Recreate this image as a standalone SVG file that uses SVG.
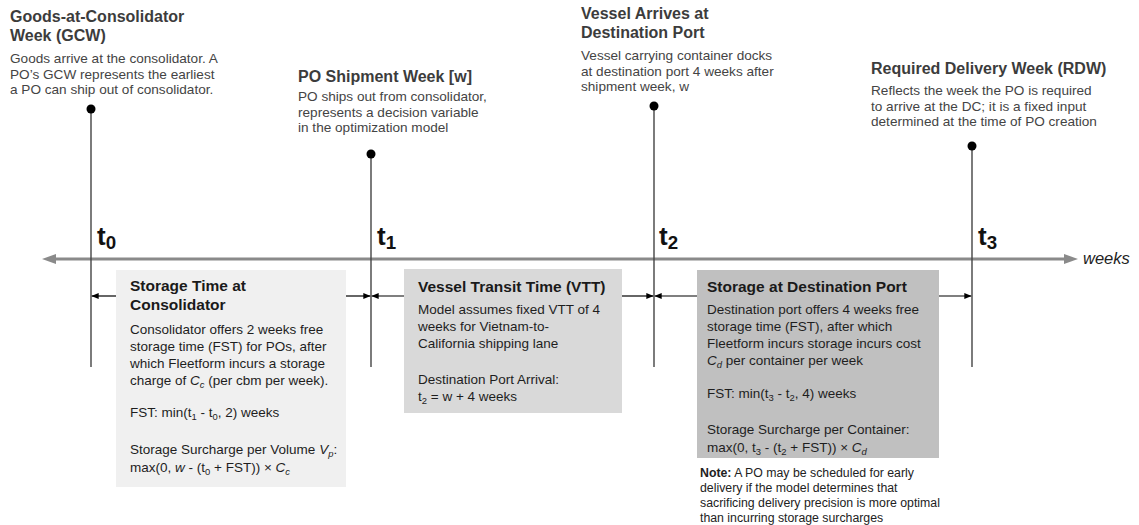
<svg xmlns="http://www.w3.org/2000/svg" width="1139" height="525" viewBox="0 0 1139 525">
  <style>
    text { font-family: "Liberation Sans", Arial, Helvetica, sans-serif; }
    .ttl { font-size: 16px; font-weight: bold; fill: #3c3c3c; }
    .desc { font-size: 13.6px; fill: #444444; }
    .btl { font-size: 15.5px; font-weight: bold; fill: #1a1a1a; }
    .body { font-size: 13.5px; fill: #1e1e1e; }
    .tick { font-size: 26px; font-weight: bold; fill: #111111; }
    .tick .sub { font-size: 0.72em; }
    .note { font-size: 12.3px; fill: #222222; }
    .vline { stroke: #444444; stroke-width: 1.4; fill: none; }
    .dot { fill: #000000; }
    .dim { stroke: #000000; stroke-width: 1.2; fill: none; marker-end: url(#dimHead); }
    .axis { stroke: #8a8a8a; stroke-width: 3; fill: none; }
    .sub { font-size: 0.7em; }
  </style>
  <defs>
    <marker id="dimHead" markerWidth="7" markerHeight="6" refX="7" refY="3" orient="auto" markerUnits="userSpaceOnUse">
      <path d="M0,0 L7,3 L0,6 Z" fill="#000000"/>
    </marker>
  </defs>

  <rect width="1139" height="525" fill="#ffffff"/>

  <!-- time axis -->
  <g id="axis">
    <line class="axis" x1="52" y1="259" x2="1066" y2="259"/>
    <path d="M42,259 L56,254 L56,264 Z" fill="#8a8a8a"/>
    <path d="M1078,259 L1064,254 L1064,264 Z" fill="#8a8a8a"/>
    <text x="1083" y="264" font-size="16.5" font-style="italic" fill="#222222">weeks</text>
  </g>

  <!-- milestone markers -->
  <g id="t0">
    <line class="vline" x1="91" y1="109" x2="91" y2="367"/>
    <circle class="dot" cx="91" cy="109" r="4.5"/>
    <text class="tick" x="97" y="245">t<tspan class="sub" dy="4">0</tspan></text>
  </g>
  <g id="t1">
    <line class="vline" x1="371" y1="154" x2="371" y2="367"/>
    <circle class="dot" cx="371" cy="154" r="4.5"/>
    <text class="tick" x="377" y="245">t<tspan class="sub" dy="4">1</tspan></text>
  </g>
  <g id="t2">
    <line class="vline" x1="654" y1="106" x2="654" y2="367"/>
    <circle class="dot" cx="654" cy="106" r="4.5"/>
    <text class="tick" x="659" y="245">t<tspan class="sub" dy="4">2</tspan></text>
  </g>
  <g id="t3">
    <line class="vline" x1="972" y1="146" x2="972" y2="367"/>
    <circle class="dot" cx="972" cy="146" r="4.5"/>
    <text class="tick" x="978" y="245">t<tspan class="sub" dy="4">3</tspan></text>
  </g>

  <!-- milestone captions -->
  <g id="gcw">
    <text class="ttl" x="10" y="22">Goods-at-Consolidator</text>
    <text class="ttl" x="10" y="41">Week (GCW)</text>
    <text class="desc" x="10" y="63">Goods arrive at the consolidator. A</text>
    <text class="desc" x="10" y="78.5">PO’s GCW represents the earliest</text>
    <text class="desc" x="10" y="94">a PO can ship out of consolidator.</text>
  </g>
  <g id="shipment-week">
    <text class="ttl" x="298" y="82">PO Shipment Week [w]</text>
    <text class="desc" x="298" y="101">PO ships out from consolidator,</text>
    <text class="desc" x="298" y="116.5">represents a decision variable</text>
    <text class="desc" x="298" y="132">in the optimization model</text>
  </g>
  <g id="vessel-arrives">
    <text class="ttl" x="581" y="19">Vessel Arrives at</text>
    <text class="ttl" x="581" y="38">Destination Port</text>
    <text class="desc" x="581" y="60">Vessel carrying container docks</text>
    <text class="desc" x="581" y="75.5">at destination port 4 weeks after</text>
    <text class="desc" x="581" y="91">shipment week, w</text>
  </g>
  <g id="rdw">
    <text class="ttl" x="871" y="74">Required Delivery Week (RDW)</text>
    <text class="desc" x="871" y="95">Reflects the week the PO is required</text>
    <text class="desc" x="871" y="110.5">to arrive at the DC; it is a fixed input</text>
    <text class="desc" x="871" y="126">determined at the time of PO creation</text>
  </g>

  <!-- interval dimension arrows -->
  <g id="connectors">
    <line class="dim" x1="116" y1="296" x2="91.7" y2="296"/>
    <line class="dim" x1="346" y1="296" x2="370.3" y2="296"/>
    <line class="dim" x1="404" y1="296" x2="371.7" y2="296"/>
    <line class="dim" x1="622" y1="296" x2="653.3" y2="296"/>
    <line class="dim" x1="697" y1="296" x2="654.7" y2="296"/>
    <line class="dim" x1="939" y1="296" x2="971.3" y2="296"/>
  </g>

  <!-- interval boxes -->
  <g id="storage-consolidator">
    <rect x="116" y="270" width="230" height="217" fill="#f0f0f0"/>
    <text class="btl" x="130" y="291">Storage Time at</text>
    <text class="btl" x="130" y="310">Consolidator</text>
    <text class="body" x="130" y="334">Consolidator offers 2 weeks free</text>
    <text class="body" x="130" y="351">storage time (FST) for POs, after</text>
    <text class="body" x="130" y="368">which Fleetform incurs a storage</text>
    <text class="body" x="130" y="385">charge of <tspan font-style="italic">C</tspan><tspan class="sub" font-style="italic" dy="3">c</tspan><tspan dy="-3"> (per cbm per week).</tspan></text>
    <text class="body" x="130" y="417">FST: min(t<tspan class="sub" dy="3">1</tspan><tspan dy="-3"> - t</tspan><tspan class="sub" dy="3">0</tspan><tspan dy="-3">, 2) weeks</tspan></text>
    <text class="body" x="130" y="454">Storage Surcharge per Volume <tspan font-style="italic">V</tspan><tspan class="sub" font-style="italic" dy="3">p</tspan><tspan dy="-3">:</tspan></text>
    <text class="body" x="130" y="472">max(0, <tspan font-style="italic">w</tspan> - (t<tspan class="sub" dy="3">0</tspan><tspan dy="-3"> + FST)) × </tspan><tspan font-style="italic">C</tspan><tspan class="sub" font-style="italic" dy="3">c</tspan></text>
  </g>
  <g id="vessel-transit">
    <rect x="404" y="269" width="218" height="144" fill="#d9d9d9"/>
    <text class="btl" x="418" y="292">Vessel Transit Time (VTT)</text>
    <text class="body" x="418" y="314">Model assumes fixed VTT of 4</text>
    <text class="body" x="418" y="331">weeks for Vietnam-to-</text>
    <text class="body" x="418" y="348">California shipping lane</text>
    <text class="body" x="418" y="384">Destination Port Arrival:</text>
    <text class="body" x="418" y="401">t<tspan class="sub" dy="3">2</tspan><tspan dy="-3"> = w + 4 weeks</tspan></text>
  </g>
  <g id="storage-destination">
    <rect x="697" y="270" width="242" height="188" fill="#c0c0c0"/>
    <text class="btl" x="707" y="292">Storage at Destination Port</text>
    <text class="body" x="707" y="314">Destination port offers 4 weeks free</text>
    <text class="body" x="707" y="331">storage time (FST), after which</text>
    <text class="body" x="707" y="348">Fleetform incurs storage incurs cost</text>
    <text class="body" x="707" y="365"><tspan font-style="italic">C</tspan><tspan class="sub" font-style="italic" dy="3">d</tspan><tspan dy="-3"> per container per week</tspan></text>
    <text class="body" x="707" y="398">FST: min(t<tspan class="sub" dy="3">3</tspan><tspan dy="-3"> - t</tspan><tspan class="sub" dy="3">2</tspan><tspan dy="-3">, 4) weeks</tspan></text>
    <text class="body" x="707" y="434">Storage Surcharge per Container:</text>
    <text class="body" x="707" y="452">max(0, t<tspan class="sub" dy="3">3</tspan><tspan dy="-3"> - (t</tspan><tspan class="sub" dy="3">2</tspan><tspan dy="-3"> + FST)) × </tspan><tspan font-style="italic">C</tspan><tspan class="sub" font-style="italic" dy="3">d</tspan></text>
  </g>

  <!-- footnote -->
  <g id="note">
    <text class="note" x="700" y="477"><tspan font-weight="bold">Note:</tspan> A PO may be scheduled for early</text>
    <text class="note" x="700" y="492">delivery if the model determines that</text>
    <text class="note" x="700" y="507">sacrificing delivery precision is more optimal</text>
    <text class="note" x="700" y="522">than incurring storage surcharges</text>
  </g>
</svg>
